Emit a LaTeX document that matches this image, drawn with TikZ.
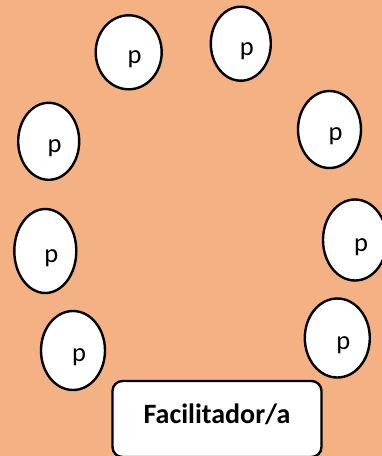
\documentclass[tikz,border=0pt]{standalone}
\usepackage{fontspec}
\setmainfont{Carlito}
\usetikzlibrary{shapes.geometric}
\definecolor{salmon}{HTML}{F4B183}

\begin{document}
\begin{tikzpicture}[x=1pt,y=-1pt,
        seat/.style={ellipse, draw=black, fill=white, line width=2.4pt, inner sep=0pt},
        seatname/.style={xshift=6pt, yshift=-7pt, font=\fontsize{26.5}{30}\selectfont},
        facbox/.style={rectangle, rounded corners=10pt, draw=black, fill=white, line width=2.4pt,
            minimum width=209pt, minimum height=76pt}]
        \fill[salmon] (0,0) rectangle (382,456);
        \useasboundingbox (0,0) rectangle (382,456);

        \node[seat, minimum width=66pt, minimum height=74pt, label={[seatname]center:p}] (topl) at (128.7,52.3) {};
        \node[seat, minimum width=60pt, minimum height=74pt, label={[seatname]center:p}] (topr) at (240.8,43.7) {};

        \node[seat, minimum width=61pt, minimum height=77pt, label={[seatname]center:p}] (leftup) at (48.7,141.3) {};
        \node[seat, minimum width=63pt, minimum height=77pt, label={[seatname]center:p}] (rightup) at (329.5,129.5) {};

        \node[seat, minimum width=62pt, minimum height=84pt, label={[seatname]center:p}] (leftmid) at (45.3,251) {};
        \node[seat, minimum width=64pt, minimum height=81pt, label={[seatname]center:p}] (rightmid) at (355,240) {};

        \node[seat, minimum width=64pt, minimum height=79pt, label={[seatname]center:p}] (leftlow) at (73,350.5) {};
        \node[seat, minimum width=65pt, minimum height=79pt, label={[seatname]center:p}] (rightlow) at (337.3,338) {};

        \node[facbox, label={[yshift=4.5pt, font=\fontsize{28}{32}\selectfont\bfseries]center:Facilitador/a}] (fac) at (217,419) {};
    \end{tikzpicture}
\end{document}
